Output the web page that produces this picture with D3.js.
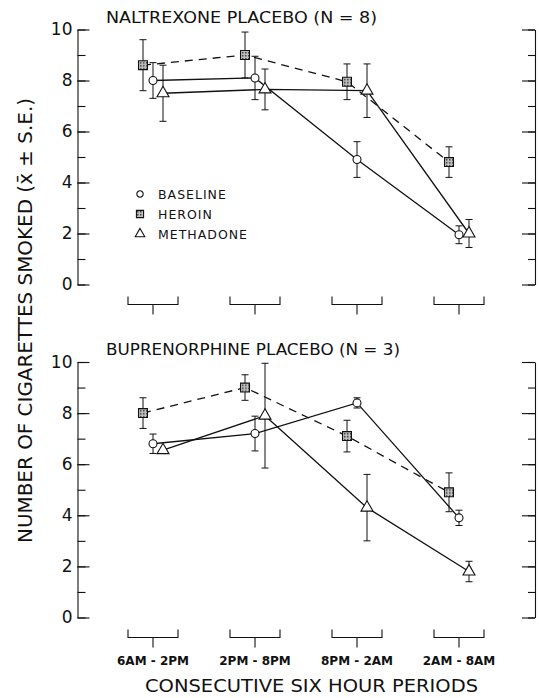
<!DOCTYPE html>
<html>
<head>
<meta charset="utf-8">
<script src="https://cdn.jsdelivr.net/npm/d3@7"></script>
<style>
  html, body { margin: 0; padding: 0; background: #fff; }
  svg { display: block; }
  text { font-family: "DejaVu Sans", "Liberation Sans", sans-serif; fill: #111; }
</style>
</head>
<body>
<svg id="chart" width="539" height="698"></svg>
<script>
// ---------------- data ----------------
const periods = ["6AM - 2PM", "2PM - 8PM", "8PM - 2AM", "2AM - 8AM"];
const seriesNames = ["HEROIN", "BASELINE", "METHADONE"];
const legendOrder = ["BASELINE", "HEROIN", "METHADONE"];
const yTicksMajor = [0, 2, 4, 6, 8, 10];
const yTicksMinor = [0, 1, 2, 3, 4, 5, 6, 7, 8, 9, 10];

const panelTitles = ["NALTREXONE PLACEBO  (N = 8)", "BUPRENORPHINE  PLACEBO  (N = 3)"];

// Naltrexone placebo (N = 8)
const naltrexoneBaseline    = [8.0, 8.1, 4.9, 1.95];
const naltrexoneBaselineSE  = [0.7, 0.85, 0.7, 0.35];
const naltrexoneHeroin      = [8.6, 9.0, 7.95, 4.8];
const naltrexoneHeroinSE    = [1.0, 0.9, 0.7, 0.6];
const naltrexoneMethadone   = [7.5, 7.65, 7.6, 2.0];
const naltrexoneMethadoneSE = [1.1, 0.8, 1.05, 0.55];

// Buprenorphine placebo (N = 3)
const buprenorphineBaseline    = [6.8, 7.2, 8.4, 3.9];
const buprenorphineBaselineSE  = [0.38, 0.68, 0.2, 0.3];
const buprenorphineHeroin      = [8.0, 9.0, 7.1, 4.9];
const buprenorphineHeroinSE    = [0.6, 0.5, 0.62, 0.76];
const buprenorphineMethadone   = [6.55, 7.9, 4.3, 1.8];
const buprenorphineMethadoneSE = [0.0, 2.05, 1.3, 0.4];

const xTitle = "CONSECUTIVE SIX HOUR PERIODS";
const yTitle = "NUMBER OF CIGARETTES SMOKED (x\u0304 \u00B1 S.E.)";

// ---------------- layout ----------------
const svg = d3.select("#chart");
const ink = "#111";

const panels = [
  { title: panelTitles[0], top: 29.5, bottom: 284.5, titleY: 23, titleLen: 271,
    data: { BASELINE: [naltrexoneBaseline, naltrexoneBaselineSE],
            HEROIN: [naltrexoneHeroin, naltrexoneHeroinSE],
            METHADONE: [naltrexoneMethadone, naltrexoneMethadoneSE] },
    legend: true },
  { title: panelTitles[1], top: 362, bottom: 617.5, titleY: 355, titleLen: 294,
    data: { BASELINE: [buprenorphineBaseline, buprenorphineBaselineSE],
            HEROIN: [buprenorphineHeroin, buprenorphineHeroinSE],
            METHADONE: [buprenorphineMethadone, buprenorphineMethadoneSE] },
    legend: false }
];

const x = d3.scalePoint().domain(periods).range([153, 459]);
const offset = d3.scalePoint().domain(seriesNames).range([-10, 10]);
const leftX = 77.5, rightX = 535;

function marker(g, name, cx, cy, scale) {
  const s = scale || 1;
  let path, fill = "#fff";
  if (name === "BASELINE") path = d3.symbol().type(d3.symbolCircle).size(50 * s * s)();
  else if (name === "HEROIN") { path = d3.symbol().type(d3.symbolSquare).size(80 * s * s)(); fill = "url(#hatch)"; }
  else path = d3.symbol().type(d3.symbolTriangle).size(62 * s * s)();
  g.append("path").attr("d", path)
    .attr("transform", `translate(${cx},${cy})`)
    .attr("fill", fill).attr("stroke", ink).attr("stroke-width", 1.1);
}

// hatch pattern for heroin squares
const defs = svg.append("defs");
const pat = defs.append("pattern").attr("id", "hatch").attr("patternUnits", "userSpaceOnUse")
  .attr("width", 3).attr("height", 3);
pat.append("rect").attr("width", 3).attr("height", 3).attr("fill", "#bdbdbd");
pat.append("rect").attr("width", 1.5).attr("height", 1.5).attr("fill", "#444");

panels.forEach(p => {
  const y = d3.scaleLinear().domain([0, 10]).range([p.bottom, p.top]);
  const g = svg.append("g");

  // title
  g.append("text").attr("x", 106).attr("y", p.titleY)
    .attr("font-size", 15).attr("textLength", p.titleLen)
    .attr("lengthAdjust", "spacingAndGlyphs")
    .text(p.title);

  // left axis: minor ticks
  const leftMinor = d3.axisLeft(y).tickValues(yTicksMinor).tickSizeInner(-8).tickSizeOuter(0).tickFormat("");
  g.append("g").attr("transform", `translate(${leftX},0)`).call(leftMinor)
    .call(a => a.selectAll("path,line").attr("stroke", ink).attr("stroke-width", 1.1));
  // left axis: major ticks + labels
  const leftMajor = d3.axisLeft(y).tickValues(yTicksMajor).tickSizeInner(-12).tickSizeOuter(0).tickPadding(5);
  g.append("g").attr("transform", `translate(${leftX},0)`).call(leftMajor)
    .call(a => a.select(".domain").remove())
    .call(a => a.selectAll("line").attr("stroke", ink).attr("stroke-width", 1.1))
    .call(a => a.selectAll("text").attr("font-size", 17).attr("fill", ink)
      .attr("font-family", "DejaVu Sans, sans-serif"));

  // right axis
  const rightMinor = d3.axisRight(y).tickValues(yTicksMinor).tickSizeInner(-7).tickSizeOuter(0).tickFormat("");
  g.append("g").attr("transform", `translate(${rightX},0)`).call(rightMinor)
    .call(a => a.selectAll("path,line").attr("stroke", ink).attr("stroke-width", 1.1));
  const rightMajor = d3.axisRight(y).tickValues(yTicksMajor).tickSizeInner(-13).tickSizeOuter(0).tickFormat("");
  g.append("g").attr("transform", `translate(${rightX},0)`).call(rightMajor)
    .call(a => a.select(".domain").remove())
    .call(a => a.selectAll("line").attr("stroke", ink).attr("stroke-width", 1.1));

  // brackets below each period
  const by = p.bottom + 20;
  periods.forEach(per => {
    const c = x(per);
    g.append("path")
      .attr("d", `M${c - 25},${by - 8}V${by}H${c + 25}V${by - 8}M${c},${by}V${by + 10}`)
      .attr("fill", "none").attr("stroke", ink).attr("stroke-width", 1.1);
  });

  // lines (under markers)
  seriesNames.forEach(name => {
    const [vals] = p.data[name];
    const line = d3.line().x((d, i) => x(periods[i]) + offset(name)).y(d => y(d));
    g.append("path").datum(vals).attr("d", line)
      .attr("fill", "none").attr("stroke", ink).attr("stroke-width", 1.3)
      .attr("stroke-dasharray", name === "HEROIN" ? "8,6" : null);
  });

  // error bars
  seriesNames.forEach(name => {
    const [vals, se] = p.data[name];
    vals.forEach((v, i) => {
      if (!se[i]) return;
      const cx = x(periods[i]) + offset(name);
      const y1 = y(v + se[i]), y2 = y(v - se[i]);
      g.append("path")
        .attr("d", `M${cx},${y1}V${y2}M${cx - 3.5},${y1}H${cx + 3.5}M${cx - 3.5},${y2}H${cx + 3.5}`)
        .attr("fill", "none").attr("stroke", ink).attr("stroke-width", 1);
    });
  });

  // markers
  seriesNames.forEach(name => {
    const [vals] = p.data[name];
    vals.forEach((v, i) => marker(g, name, x(periods[i]) + offset(name), y(v)));
  });

  // legend
  if (p.legend) {
    legendOrder.forEach((name, i) => {
      const ly = 194 + i * 20;
      marker(g, name, 140, ly, 0.8);
      g.append("text").attr("x", 158).attr("y", ly + 5)
        .attr("font-size", 12.5).attr("letter-spacing", 1).text(name);
    });
  }
});

// period labels
periods.forEach(per => {
  svg.append("text").attr("x", x(per)).attr("y", 665)
    .attr("text-anchor", "middle").attr("font-size", 12).attr("font-weight", "bold")
    .text(per);
});

// x title
svg.append("text").attr("x", 311.5).attr("y", 692).attr("text-anchor", "middle")
  .attr("font-size", 18).attr("textLength", 333).attr("lengthAdjust", "spacingAndGlyphs")
  .text(xTitle);

// y title
svg.append("text").attr("transform", "translate(32,320.5) rotate(-90)")
  .attr("text-anchor", "middle").attr("font-size", 20)
  .attr("textLength", 445).attr("lengthAdjust", "spacingAndGlyphs")
  .text(yTitle);
</script>
</body>
</html>
